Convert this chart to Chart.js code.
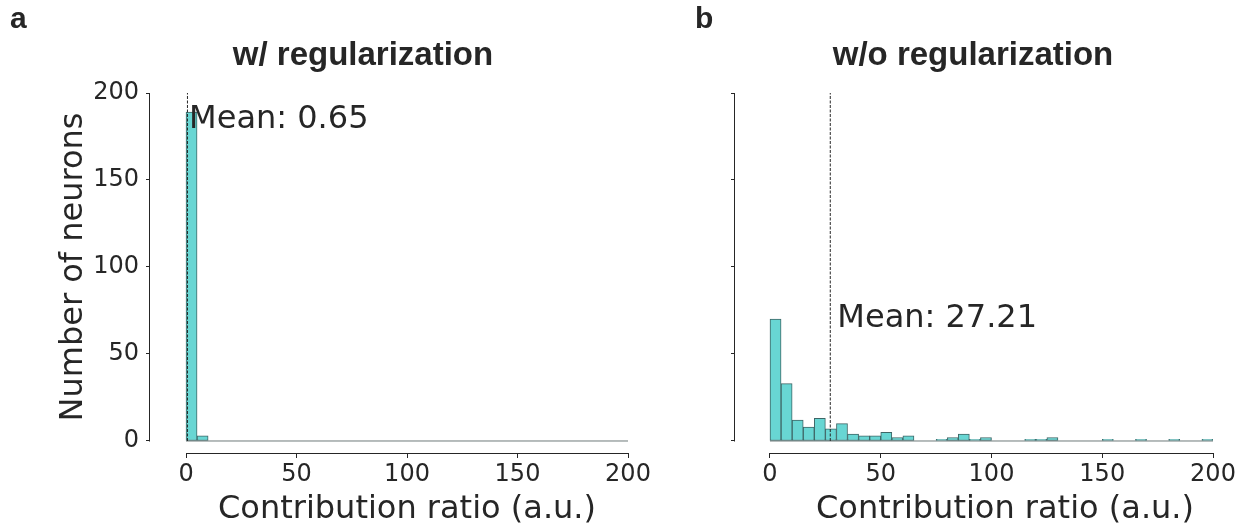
<!DOCTYPE html>
<html>
<head>
<meta charset="utf-8">
<script src="https://cdn.jsdelivr.net/npm/chart.js@4.4.1/dist/chart.umd.min.js"></script>
<style>
  html, body { margin: 0; padding: 0; background: #fff; }
  #wrap { position: relative; width: 1247px; height: 525px; overflow: hidden; }
  canvas { position: absolute; top: 0; }
</style>
</head>
<body>
<div id="wrap">
  <canvas id="chartA" width="700" height="525" style="left:0px"></canvas>
  <canvas id="chartB" width="557" height="525" style="left:690px"></canvas>
</div>
<script>
// histogram bin edges (5 a.u. wide)
var binEdges = [0, 5, 10, 15, 20, 25, 30, 35, 40, 45, 50, 55, 60, 65, 70, 75, 80, 85, 90, 95,
                100, 105, 110, 115, 120, 125, 130, 135, 140, 145, 150, 155, 160, 165, 170, 175, 180, 185, 190, 195, 200];

// neuron counts per bin
var countsReg = [189, 3, 0, 0, 0, 0, 0, 0, 0, 0, 0, 0, 0, 0, 0, 0, 0, 0, 0, 0,
                 0, 0, 0, 0, 0, 0, 0, 0, 0, 0, 0, 0, 0, 0, 0, 0, 0, 0, 0, 0];
var countsNoReg = [70, 33, 12, 8, 13, 7, 10, 4, 3, 3, 5, 2, 3, 0, 0, 1, 2, 4, 1, 2,
                   0, 0, 0, 1, 1, 2, 0, 0, 0, 0, 1, 0, 0, 1, 0, 0, 1, 0, 0, 1];

var meanReg = 0.65;
var meanNoReg = 27.21;

var tickValues = [0, 50, 100, 150, 200];

var ink = "#262626";

function histData(counts) {
    return counts.map(function (c, i) {
        return { x: (binEdges[i] + binEdges[i + 1]) / 2, y: c };
    });
}

//Spines and text

var decor = {
    id: "decor",
    afterDraw: function (chart, args, opts) {
        var ctx = chart.ctx,
            xs = chart.scales.x,
            ys = chart.scales.y,
            area = chart.chartArea;
        ctx.save();
        ctx.strokeStyle = ink;
        ctx.lineWidth = 1;
        ctx.beginPath();
        ctx.moveTo(area.left - 0.5, Math.round(ys.getPixelForValue(200)));
        ctx.lineTo(area.left - 0.5, Math.round(ys.getPixelForValue(0)) + 0.5);
        ctx.moveTo(Math.round(xs.getPixelForValue(0)), area.bottom + 0.5);
        ctx.lineTo(Math.round(xs.getPixelForValue(200)) + 1, area.bottom + 0.5);
        ctx.stroke();

        ctx.fillStyle = ink;
        ctx.textBaseline = "alphabetic";
        opts.texts.forEach(function (t) {
            var x = t.dataX !== undefined ? xs.getPixelForValue(t.dataX) : t.x;
            var y = t.dataY !== undefined ? ys.getPixelForValue(t.dataY) : t.y;
            ctx.save();
            ctx.font = t.font;
            ctx.fillStyle = t.color || ink;
            ctx.textAlign = t.align || "left";
            ctx.translate(x, y);
            if (t.rotate) ctx.rotate(-Math.PI / 2);
            ctx.fillText(t.text, 0, 0);
            ctx.restore();
        });
        ctx.restore();
    }
};

function makeScales(xMin, yMin, yWidth, showYLabels) {
    return {
        x: {
            type: "linear",
            min: xMin,
            max: 200,
            offset: false,
            afterBuildTicks: function (s) {
                s.ticks = tickValues.map(function (v) { return { value: v }; });
            },
            afterFit: function (s) { s.height = 72; },
            grid: { display: true, offset: false, drawOnChartArea: false, drawTicks: true, tickLength: 5, color: ink, lineWidth: 1 },
            border: { display: false },
            ticks: {
                font: { family: "DejaVu Sans", size: 24 },
                color: ink,
                padding: 2,
                maxRotation: 0,
                autoSkip: false
            }
        },
        y: {
            type: "linear",
            min: yMin,
            max: 200,
            afterBuildTicks: function (s) {
                s.ticks = tickValues.map(function (v) { return { value: v }; });
            },
            afterFit: function (s) { s.width = yWidth; },
            grid: { display: true, drawOnChartArea: false, drawTicks: true, tickLength: 4, color: ink, lineWidth: 1 },
            border: { display: false },
            ticks: {
                font: { family: "DejaVu Sans", size: 24 },
                color: ink,
                padding: 7,
                autoSkip: false,
                callback: function (v) { return showYLabels ? String(v) : ""; }
            }
        }
    };
}

function makeDatasets(counts, mean) {
    return [
        {
            type: "line",
            data: [{ x: mean, y: 0 }, { x: mean, y: 200 }],
            borderColor: ink,
            borderWidth: 1,
            borderDash: [3, 1.5],
            pointRadius: 0,
            order: 0
        },
        {
            type: "bar",
            data: histData(counts),
            backgroundColor: "#68d6d3",
            borderColor: "#3e6666",
            borderWidth: 1,
            borderSkipped: false,
            barPercentage: 1,
            categoryPercentage: 1,
            grouped: false,
            order: 1
        },
        {
            type: "line",
            data: [{ x: 0, y: 0 }, { x: 200, y: 0 }],
            borderColor: "#6e7a7a",
            borderWidth: 1,
            pointRadius: 0,
            order: 2
        }
    ];
}

var titleFont = "bold 33px 'Liberation Sans', Arial, sans-serif";
var letterFont = "bold 30px 'Liberation Sans', Arial, sans-serif";
var labelFont = "32px 'DejaVu Sans', sans-serif";

var chartA = new Chart(document.getElementById("chartA"), {
    type: "bar",
    data: { datasets: makeDatasets(countsReg, meanReg) },
    options: {
        responsive: false,
        animation: false,
        layout: { padding: { left: 0, top: 93, right: 72, bottom: 0 } },
        scales: makeScales(-16.3, -6.9, 150, true),
        plugins: {
            legend: { display: false },
            tooltip: { enabled: false },
            decor: {
                texts: [
                    { text: "a", x: 10, y: 28, font: letterFont },
                    { text: "w/ regularization", x: 363, y: 65, font: titleFont, align: "center" },
                    { text: "Number of neurons", x: 82, y: 267, font: labelFont, align: "center", rotate: true },
                    { text: "Contribution ratio (a.u.)", x: 407, y: 518, font: labelFont, align: "center" },
                    { text: "Mean: " + meanReg.toFixed(2), dataX: 1.4, dataY: 179.7, font: labelFont }
                ]
            }
        }
    },
    plugins: [decor]
});

var chartB = new Chart(document.getElementById("chartB"), {
    type: "bar",
    data: { datasets: makeDatasets(countsNoReg, meanNoReg) },
    options: {
        responsive: false,
        animation: false,
        layout: { padding: { left: 0, top: 93, right: 34, bottom: 0 } },
        scales: makeScales(-15.8, -6.9, 45, false),
        plugins: {
            legend: { display: false },
            tooltip: { enabled: false },
            decor: {
                texts: [
                    { text: "b", x: 5, y: 28, font: letterFont },
                    { text: "w/o regularization", x: 283, y: 65, font: titleFont, align: "center" },
                    { text: "Contribution ratio (a.u.)", x: 315, y: 518, font: labelFont, align: "center" },
                    { text: "Mean: " + meanNoReg.toFixed(2), dataX: 30.4, dataY: 65.7, font: labelFont }
                ]
            }
        }
    },
    plugins: [decor]
});
</script>
</body>
</html>
